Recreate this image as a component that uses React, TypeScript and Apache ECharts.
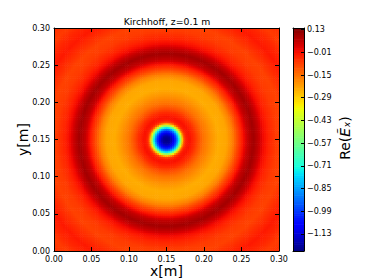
import React, { useEffect, useRef } from 'react';
import * as echarts from 'echarts';

// Radial profile of Re(Ex) (radius from the centre, metres)
const radiiM = [0, 0.0053, 0.0093, 0.0133, 0.016, 0.018, 0.02, 0.022, 0.024, 0.0267, 0.0307, 0.0373, 0.0427, 0.0493, 0.06, 0.0693, 0.08, 0.088, 0.0947, 0.1013, 0.108, 0.116, 0.1227, 0.1293, 0.1373, 0.1467, 0.1573, 0.168, 0.1787, 0.1893, 0.2, 0.2133];
const profileRe = [-1.235, -1.2, -1.1, -0.95, -0.78, -0.6, -0.4, -0.2, -0.07, -0.02, -0.01, -0.05, -0.1, -0.15, -0.2, -0.235, -0.225, -0.17, -0.09, -0.02, 0.06, 0.1, 0.06, 0.0, -0.04, -0.07, -0.08, -0.05, -0.02, -0.04, -0.07, -0.05];
const centre = [0.15, 0.15];
const cbTicks = [0.13, -0.01, -0.15, -0.29, -0.43, -0.57, -0.71, -0.85, -0.99, -1.13];
const vMin = -1.235;
const vMax = 0.14;
const titleText = 'Kirchhoff, z=0.1 m';

const N = 120;
const L = 0.3;

function interp(t: number, xs: number[], ys: number[]) {
  if (t <= xs[0]) return ys[0];
  for (let i = 1; i < xs.length; i++) {
    if (t <= xs[i]) {
      const f = (t - xs[i - 1]) / (xs[i] - xs[i - 1]);
      return ys[i - 1] + f * (ys[i] - ys[i - 1]);
    }
  }
  return ys[ys.length - 1];
}

function jet(t: number) {
  const r = interp(t, [0, 0.35, 0.66, 0.89, 1], [0, 0, 1, 1, 0.5]);
  const g = interp(t, [0, 0.125, 0.375, 0.64, 0.91, 1], [0, 0, 1, 1, 0, 0]);
  const b = interp(t, [0, 0.11, 0.34, 0.65, 1], [0.5, 1, 1, 0, 0]);
  const h = (v: number) => Math.round(v * 255).toString(16).padStart(2, '0');
  return '#' + h(r) + h(g) + h(b);
}

const jetColors: string[] = [];
for (let i = 0; i <= 50; i++) jetColors.push(jet(i / 50));

const cells: number[][] = [];
const d = L / N;
for (let i = 0; i < N; i++) {
  for (let j = 0; j < N; j++) {
    const x = (i + 0.5) * d;
    const y = (j + 0.5) * d;
    const r = Math.hypot(x - centre[0], y - centre[1]);
    cells.push([x, y, interp(r, radiiM, profileRe)]);
  }
}

const nb = 100;
const cbBands: number[][] = [];
for (let k = 0; k < nb; k++) {
  const lo = vMin + (k * (vMax - vMin)) / nb;
  const hi = vMin + ((k + 1) * (vMax - vMin)) / nb;
  cbBands.push([lo, hi, (lo + hi) / 2]);
}

const FONT = 'DejaVu Sans';
const fmt = (v: number) => v.toFixed(2).replace('-', '\u2212');

export default function App() {
  const ref = useRef<HTMLDivElement>(null);
  useEffect(() => {
    if (!ref.current) return;
    const chart = echarts.init(ref.current, undefined, { renderer: 'svg' });
    const tickStyle = { inside: true, length: 4, lineStyle: { color: '#000', width: 1 } };
    const lineStyle = { show: true, onZero: false, lineStyle: { color: '#000', width: 1 } };
    const mainAxis = {
      type: 'value', min: 0, max: 0.3, interval: 0.05, z: 10,
      splitLine: { show: false }, axisLine: lineStyle, axisTick: tickStyle,
    };
    const plain = { axisLine: lineStyle, axisTick: { show: false }, axisLabel: { show: false }, splitLine: { show: false }, z: 10 };
    const option: any = {
      animation: false,
      backgroundColor: '#fff',
      grid: [
        { left: 54, top: 28, width: 225, height: 223 },
        { left: 293, top: 28, width: 11, height: 223 },
      ],
      xAxis: [
        { ...mainAxis, gridIndex: 0, position: 'bottom',
          axisLabel: { formatter: (v: number) => v.toFixed(2), fontFamily: FONT, fontSize: 8, color: '#000', margin: 4, showMinLabel: true, showMaxLabel: true } },
        { ...mainAxis, gridIndex: 0, position: 'top', axisLabel: { show: false } },
        { type: 'value', gridIndex: 1, min: 0, max: 1, position: 'bottom', ...plain },
        { type: 'value', gridIndex: 1, min: 0, max: 1, position: 'top', ...plain },
      ],
      yAxis: [
        { ...mainAxis, gridIndex: 0, position: 'left',
          axisLabel: { formatter: (v: number) => v.toFixed(2), fontFamily: FONT, fontSize: 8, color: '#000', margin: 4, showMinLabel: true, showMaxLabel: true } },
        { ...mainAxis, gridIndex: 0, position: 'right', axisLabel: { show: false } },
        { type: 'value', gridIndex: 1, min: vMin, max: vMax, position: 'right', z: 10,
          axisLine: lineStyle, splitLine: { show: false },
          axisTick: { ...tickStyle, length: 3, customValues: cbTicks },
          axisLabel: { customValues: cbTicks, formatter: fmt, fontFamily: FONT, fontSize: 8, color: '#000', margin: 3 } },
        { type: 'value', gridIndex: 1, min: vMin, max: vMax, position: 'left', ...plain },
      ],
      visualMap: {
        show: false, type: 'continuous', min: vMin, max: vMax, dimension: 2, seriesIndex: [0, 1],
        inRange: { color: jetColors },
      },
      series: [
        {
          type: 'custom', xAxisIndex: 0, yAxisIndex: 0, clip: true, z: 1,
          progressive: 0, progressiveThreshold: 1000000,
          dimensions: ['x', 'y', 'v'], encode: { x: 0, y: 1 },
          data: cells,
          renderItem: (params: any, api: any) => {
            const x = api.value(0);
            const y = api.value(1);
            const p0 = api.coord([x - d / 2, y + d / 2]);
            const p1 = api.coord([x + d / 2, y - d / 2]);
            return {
              type: 'rect',
              shape: { x: p0[0], y: p0[1], width: p1[0] - p0[0] + 0.6, height: p1[1] - p0[1] + 0.6 },
              style: { fill: api.visual('color') },
            };
          },
        },
        {
          type: 'custom', xAxisIndex: 2, yAxisIndex: 2, clip: true, z: 1,
          progressive: 0,
          dimensions: ['lo', 'hi', 'v'], encode: { y: 2 },
          data: cbBands,
          renderItem: (params: any, api: any) => {
            const p0 = api.coord([0, api.value(1)]);
            const p1 = api.coord([1, api.value(0)]);
            return {
              type: 'rect',
              shape: { x: p0[0], y: p0[1], width: p1[0] - p0[0], height: p1[1] - p0[1] + 0.6 },
              style: { fill: api.visual('color') },
            };
          },
        },
      ],
      graphic: [
        { type: 'text', x: 167, y: 21, style: { text: titleText, fontFamily: FONT, fontSize: 9.3, fill: '#000', align: 'center', verticalAlign: 'middle' } },
        { type: 'text', x: 166.5, y: 271, style: { text: 'x[m]', fontFamily: FONT, fontSize: 14, fill: '#000', align: 'center', verticalAlign: 'middle' } },
        { type: 'text', x: 23, y: 139.5, rotation: Math.PI / 2, style: { text: 'y[m]', fontFamily: FONT, fontSize: 14, fill: '#000', align: 'center', verticalAlign: 'middle' } },
        { type: 'text', x: 345, y: 138, rotation: Math.PI / 2,
          style: { text: '{a|Re(}{b|\u1EBC\u2093}{a|)}', align: 'center', verticalAlign: 'middle',
            rich: { a: { fontFamily: FONT, fontSize: 14, fill: '#000' }, b: { fontFamily: FONT, fontSize: 14, fontStyle: 'italic', fill: '#000' } } } },
      ],
    };
    chart.setOption(option);
    return () => chart.dispose();
  }, []);
  return <div ref={ref} style={{ position: 'fixed', left: 0, top: 0, width: 374, height: 280 }} />;
}
